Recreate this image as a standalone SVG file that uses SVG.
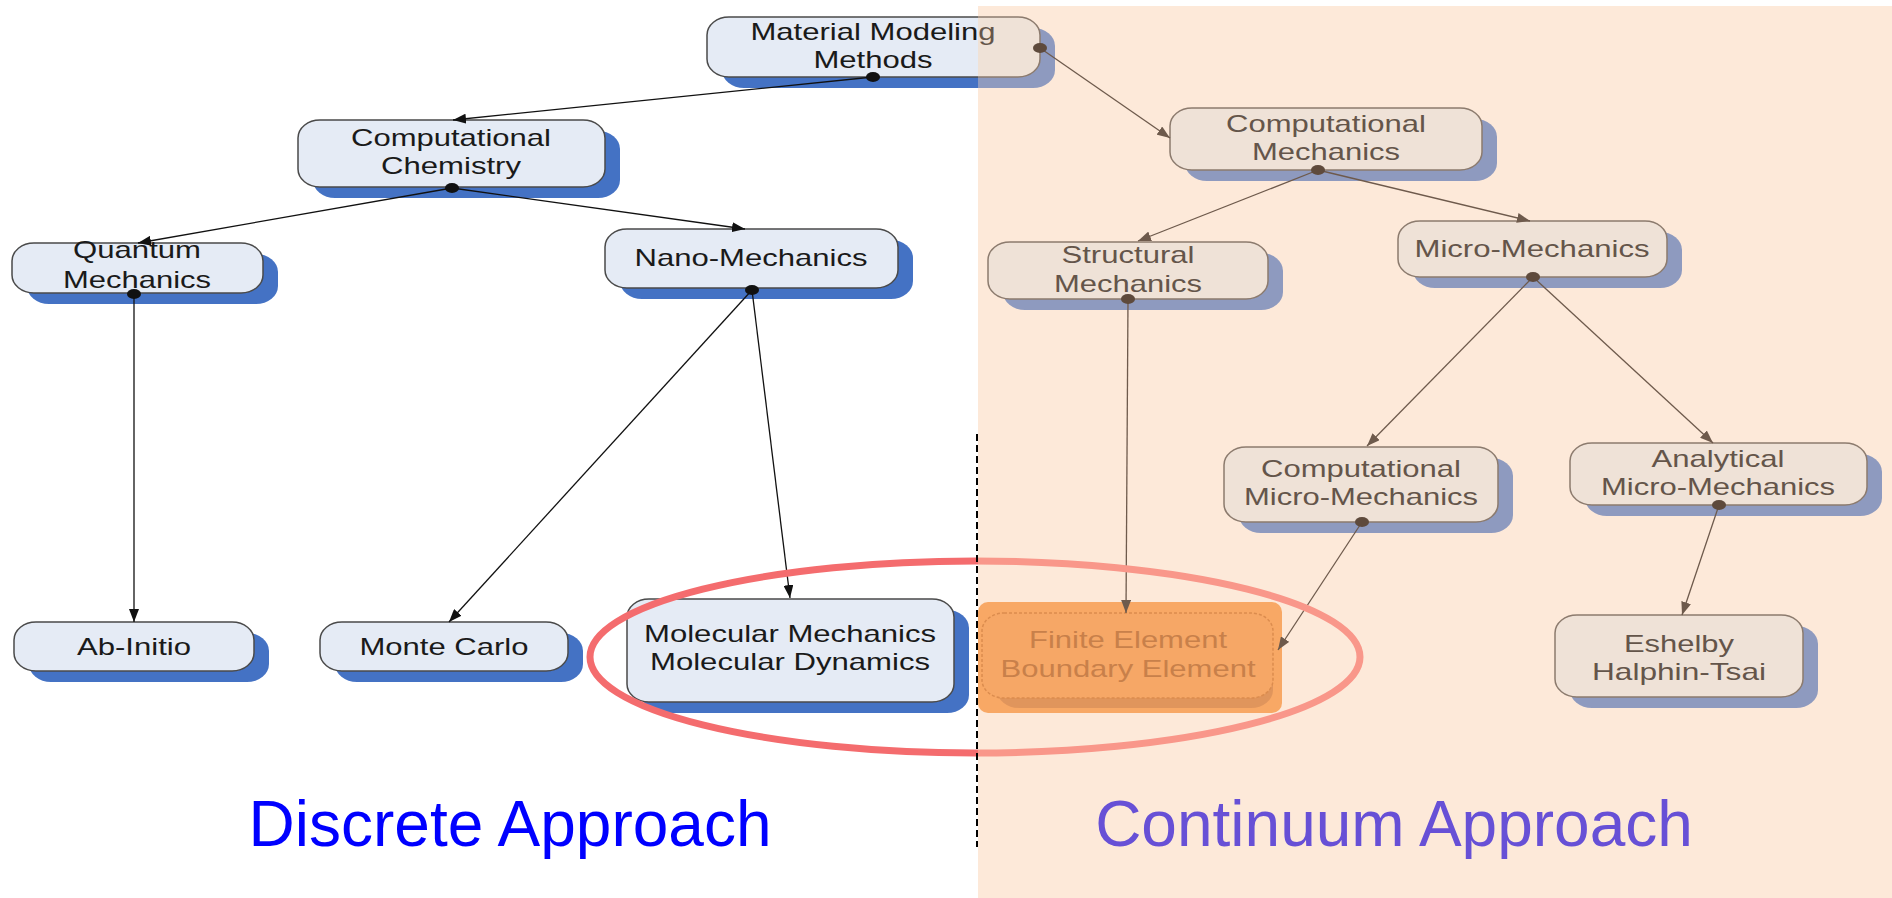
<svg xmlns="http://www.w3.org/2000/svg" width="1892" height="898" viewBox="0 0 1892 898">
<style>
.t{font-family:"Liberation Sans",Arial,sans-serif;font-size:24px;text-anchor:middle}
.L .sh{fill:#4472C4}
.L .bx{fill:#E5EBF5;stroke:#4a4a4a;stroke-width:1.5}
.L text{fill:#1a1a1a}
.R .sh{fill:#8E9ABF}
.R .bx{fill:#EFE2D7;stroke:#8C7B6E;stroke-width:1.5}
.R text{fill:#64554A}
.S .sh{fill:url(#gSh)}
.S .bx{fill:url(#gFill);stroke:url(#gStroke);stroke-width:1.5}
.S text{fill:url(#gText)}
.cl{stroke:#111;stroke-width:1.3;fill:none;marker-end:url(#aL)}
.cr{stroke:#6E5A4C;stroke-width:1.3;fill:none;marker-end:url(#aR)}
.dl{fill:#111}
.dr{fill:#5E4A3C}
.big{font-family:"Liberation Sans",Arial,sans-serif;font-size:64px;text-anchor:middle}
</style>
<defs>
<linearGradient id="gSh" gradientUnits="userSpaceOnUse" x1="0" y1="0" x2="1892" y2="0"><stop offset="0.5169" stop-color="#4472C4"/><stop offset="0.5169" stop-color="#8E9ABF"/></linearGradient>
<linearGradient id="gFill" gradientUnits="userSpaceOnUse" x1="0" y1="0" x2="1892" y2="0"><stop offset="0.5169" stop-color="#E5EBF5"/><stop offset="0.5169" stop-color="#EFE2D7"/></linearGradient>
<linearGradient id="gStroke" gradientUnits="userSpaceOnUse" x1="0" y1="0" x2="1892" y2="0"><stop offset="0.5169" stop-color="#4a4a4a"/><stop offset="0.5169" stop-color="#8C7B6E"/></linearGradient>
<linearGradient id="gText" gradientUnits="userSpaceOnUse" x1="0" y1="0" x2="1892" y2="0"><stop offset="0.5169" stop-color="#1a1a1a"/><stop offset="0.5169" stop-color="#64554A"/></linearGradient>
<linearGradient id="gEll" gradientUnits="userSpaceOnUse" x1="0" y1="0" x2="1892" y2="0"><stop offset="0.5169" stop-color="#F46C6E"/><stop offset="0.5169" stop-color="#F9978A"/></linearGradient>
<marker id="aL" markerUnits="userSpaceOnUse" markerWidth="13" markerHeight="10" refX="13" refY="5" orient="auto"><path d="M0,0 L13,5 L0,10 Z" fill="#111"/></marker>
<marker id="aR" markerUnits="userSpaceOnUse" markerWidth="13" markerHeight="10" refX="13" refY="5" orient="auto"><path d="M0,0 L13,5 L0,10 Z" fill="#6E5A4C"/></marker>
</defs>
<rect x="0" y="0" width="1892" height="898" fill="#ffffff"/>
<rect id="continuum-bg" x="978" y="6" width="914" height="892" fill="#FDE9D9"/>

<g id="n-mmm" class="S">
<rect class="sh" x="722" y="28" width="333" height="60" rx="22" ry="18"/>
<rect class="bx" x="707" y="17" width="333" height="60" rx="22" ry="18"/>
<text class="t" x="873" y="40" textLength="245" lengthAdjust="spacingAndGlyphs">Material Modeling</text>
<text class="t" x="873" y="68" textLength="119" lengthAdjust="spacingAndGlyphs">Methods</text>
</g>
<g id="n-compchem" class="L">
<rect class="sh" x="313" y="131" width="307" height="67" rx="22" ry="18"/>
<rect class="bx" x="298" y="120" width="307" height="67" rx="22" ry="18"/>
<text class="t" x="451" y="146" textLength="200" lengthAdjust="spacingAndGlyphs">Computational</text>
<text class="t" x="451" y="174" textLength="140" lengthAdjust="spacingAndGlyphs">Chemistry</text>
</g>
<g id="n-quantum" class="L">
<rect class="sh" x="27" y="254" width="251" height="50" rx="22" ry="18"/>
<rect class="bx" x="12" y="243" width="251" height="50" rx="22" ry="18"/>
<text class="t" x="137" y="258" textLength="128" lengthAdjust="spacingAndGlyphs">Quantum</text>
<text class="t" x="137" y="288" textLength="148" lengthAdjust="spacingAndGlyphs">Mechanics</text>
</g>
<g id="n-nano" class="L">
<rect class="sh" x="620" y="240" width="293" height="59" rx="22" ry="18"/>
<rect class="bx" x="605" y="229" width="293" height="59" rx="22" ry="18"/>
<text class="t" x="751" y="266" textLength="233" lengthAdjust="spacingAndGlyphs">Nano-Mechanics</text>
</g>
<g id="n-abinitio" class="L">
<rect class="sh" x="29" y="633" width="240" height="49" rx="22" ry="18"/>
<rect class="bx" x="14" y="622" width="240" height="49" rx="22" ry="18"/>
<text class="t" x="134" y="655" textLength="114" lengthAdjust="spacingAndGlyphs">Ab-Initio</text>
</g>
<g id="n-montecarlo" class="L">
<rect class="sh" x="335" y="633" width="248" height="49" rx="22" ry="18"/>
<rect class="bx" x="320" y="622" width="248" height="49" rx="22" ry="18"/>
<text class="t" x="444" y="655" textLength="169" lengthAdjust="spacingAndGlyphs">Monte Carlo</text>
</g>
<g id="n-molecular" class="L">
<rect class="sh" x="642" y="610" width="327" height="103" rx="22" ry="18"/>
<rect class="bx" x="627" y="599" width="327" height="103" rx="22" ry="18"/>
<text class="t" x="790" y="642" textLength="292" lengthAdjust="spacingAndGlyphs">Molecular Mechanics</text>
<text class="t" x="790" y="670" textLength="280" lengthAdjust="spacingAndGlyphs">Molecular Dynamics</text>
</g>

<g id="n-compmech" class="R">
<rect class="sh" x="1185" y="119" width="312" height="62" rx="22" ry="18"/>
<rect class="bx" x="1170" y="108" width="312" height="62" rx="22" ry="18"/>
<text class="t" x="1326" y="132" textLength="200" lengthAdjust="spacingAndGlyphs">Computational</text>
<text class="t" x="1326" y="160" textLength="148" lengthAdjust="spacingAndGlyphs">Mechanics</text>
</g>
<g id="n-structural" class="R">
<rect class="sh" x="1003" y="253" width="280" height="57" rx="22" ry="18"/>
<rect class="bx" x="988" y="242" width="280" height="57" rx="22" ry="18"/>
<text class="t" x="1128" y="263" textLength="133" lengthAdjust="spacingAndGlyphs">Structural</text>
<text class="t" x="1128" y="292" textLength="148" lengthAdjust="spacingAndGlyphs">Mechanics</text>
</g>
<g id="n-micro" class="R">
<rect class="sh" x="1413" y="232" width="269" height="56" rx="22" ry="18"/>
<rect class="bx" x="1398" y="221" width="269" height="56" rx="22" ry="18"/>
<text class="t" x="1532" y="257" textLength="235" lengthAdjust="spacingAndGlyphs">Micro-Mechanics</text>
</g>
<g id="n-compmicro" class="R">
<rect class="sh" x="1239" y="458" width="274" height="75" rx="22" ry="18"/>
<rect class="bx" x="1224" y="447" width="274" height="75" rx="22" ry="18"/>
<text class="t" x="1361" y="477" textLength="200" lengthAdjust="spacingAndGlyphs">Computational</text>
<text class="t" x="1361" y="505" textLength="234" lengthAdjust="spacingAndGlyphs">Micro-Mechanics</text>
</g>
<g id="n-analytical" class="R">
<rect class="sh" x="1585" y="454" width="297" height="62" rx="22" ry="18"/>
<rect class="bx" x="1570" y="443" width="297" height="62" rx="22" ry="18"/>
<text class="t" x="1718" y="467" textLength="133" lengthAdjust="spacingAndGlyphs">Analytical</text>
<text class="t" x="1718" y="495" textLength="234" lengthAdjust="spacingAndGlyphs">Micro-Mechanics</text>
</g>
<g id="n-eshelby" class="R">
<rect class="sh" x="1570" y="626" width="248" height="82" rx="22" ry="18"/>
<rect class="bx" x="1555" y="615" width="248" height="82" rx="22" ry="18"/>
<text class="t" x="1679" y="652" textLength="110" lengthAdjust="spacingAndGlyphs">Eshelby</text>
<text class="t" x="1679" y="680" textLength="174" lengthAdjust="spacingAndGlyphs">Halphin-Tsai</text>
</g>
<g id="n-fe">
<rect x="978" y="602" width="304" height="111" rx="10" ry="10" fill="#F8A865"/>
<rect x="997" y="624" width="276" height="84" rx="22" ry="18" fill="#E0955C"/>
<rect x="982" y="613" width="291" height="85" rx="22" ry="18" fill="#F6A766" stroke="#DB8C4E" stroke-width="1.5" stroke-dasharray="3 2"/>
<text class="t" x="1128" y="648" textLength="198" lengthAdjust="spacingAndGlyphs" fill="#C8804A">Finite Element</text>
<text class="t" x="1128" y="677" textLength="255" lengthAdjust="spacingAndGlyphs" fill="#C8804A">Boundary Element</text>
</g>

<g id="connectors">
<line class="cl" x1="873" y1="77" x2="453" y2="120"/>
<line class="cr" x1="1040" y1="48" x2="1170" y2="138"/>
<line class="cl" x1="452" y1="188" x2="138" y2="243"/>
<line class="cl" x1="452" y1="188" x2="745" y2="229"/>
<line class="cl" x1="134" y1="294" x2="134" y2="622"/>
<line class="cl" x1="752" y1="290" x2="449" y2="622"/>
<line class="cl" x1="752" y1="290" x2="790" y2="598"/>
<line class="cr" x1="1318" y1="170" x2="1138" y2="241"/>
<line class="cr" x1="1318" y1="170" x2="1530" y2="221"/>
<line class="cr" x1="1128" y1="299" x2="1126" y2="613"/>
<line class="cr" x1="1533" y1="277" x2="1367" y2="446"/>
<line class="cr" x1="1533" y1="277" x2="1713" y2="443"/>
<line class="cr" x1="1362" y1="522" x2="1278" y2="650"/>
<line class="cr" x1="1719" y1="505" x2="1682" y2="615"/>
<ellipse class="dl" cx="873" cy="77" rx="7" ry="5"/>
<ellipse class="dr" cx="1040" cy="48" rx="7" ry="5"/>
<ellipse class="dl" cx="452" cy="188" rx="7" ry="5"/>
<ellipse class="dl" cx="134" cy="294" rx="7" ry="5"/>
<ellipse class="dl" cx="752" cy="290" rx="7" ry="5"/>
<ellipse class="dr" cx="1318" cy="170" rx="7" ry="5"/>
<ellipse class="dr" cx="1128" cy="299" rx="7" ry="5"/>
<ellipse class="dr" cx="1533" cy="277" rx="7" ry="5"/>
<ellipse class="dr" cx="1362" cy="522" rx="7" ry="5"/>
<ellipse class="dr" cx="1719" cy="505" rx="7" ry="5"/>
</g>

<ellipse id="highlight" cx="975" cy="657" rx="385" ry="96" fill="none" stroke="url(#gEll)" stroke-width="7"/>
<line id="divider" x1="977" y1="434" x2="977" y2="847" stroke="#000" stroke-width="2" stroke-dasharray="7 4"/>
<text class="big" x="510" y="846" fill="#0000FF">Discrete Approach</text>
<text class="big" x="1394" y="846" fill="#6750D6">Continuum Approach</text>
</svg>
